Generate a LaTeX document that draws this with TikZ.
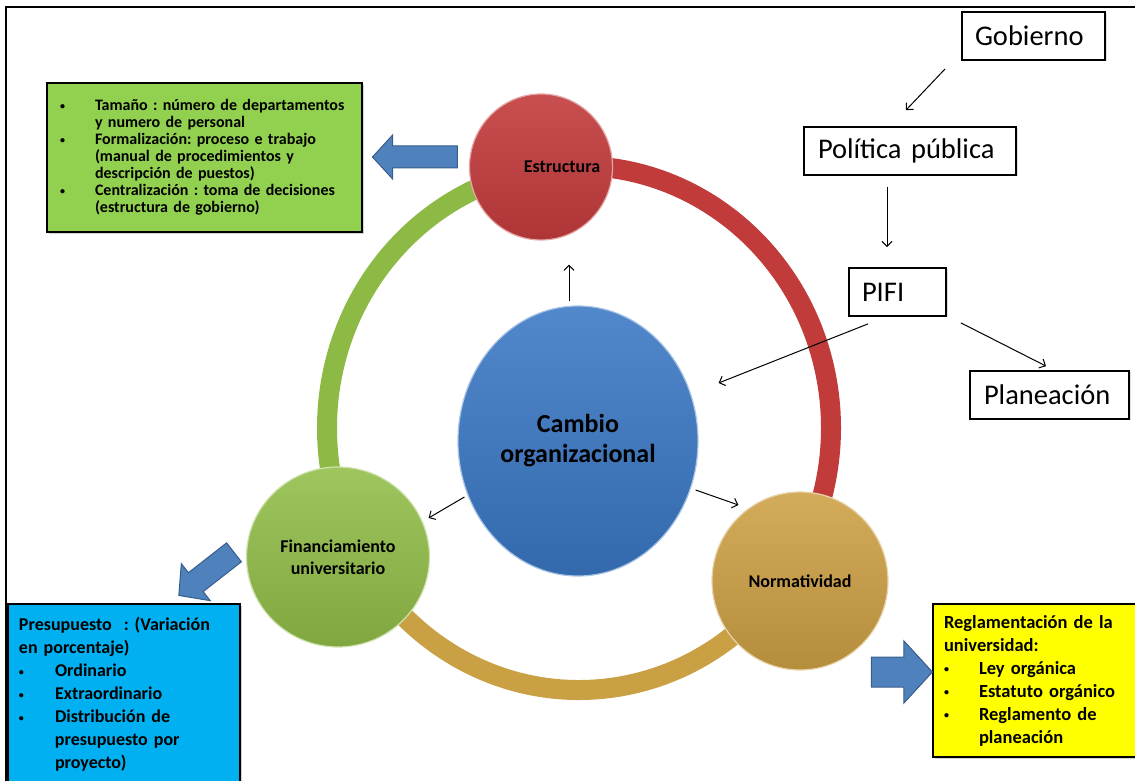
\documentclass[tikz,border=0pt]{standalone}
\usepackage{fontspec}
\setmainfont{Carlito}
\usetikzlibrary{shapes.geometric,shapes.arrows,arrows.meta,positioning,shadows}
\frenchspacing

\definecolor{ringred}{HTML}{C13B3B}
\definecolor{ringgreen}{HTML}{8DBA45}
\definecolor{ringgold}{HTML}{C9A044}
\definecolor{cblue}{HTML}{3A78C4}
\definecolor{cred}{HTML}{C23B3C}
\definecolor{cgreen}{HTML}{92BE48}
\definecolor{cgold}{HTML}{CDA045}
\definecolor{boxgreen}{HTML}{92D050}
\definecolor{boxblue}{HTML}{00B0F0}
\definecolor{boxyellow}{HTML}{FFFF00}
\definecolor{arrowblue}{HTML}{4F81BD}
\definecolor{arrowedge}{HTML}{385D8A}

\newcommand{\bul}{\raisebox{1.5pt}{\fontsize{10}{10}\selectfont\textbullet}}

\begin{document}
\begin{tikzpicture}[x=1pt, y=1pt]
  % Define styles
  \tikzstyle{ball} = [ellipse, inner sep=0pt, align=center, line width=1.2pt, font=\bfseries\fontsize{18}{22}\selectfont]
  \tikzstyle{ringarc} = [line width=20pt, line cap=butt]
  \tikzstyle{infobox} = [rectangle, draw=black, line width=2.2pt, align=left, inner ysep=0pt, drop shadow={opacity=0.35, shadow xshift=2pt, shadow yshift=-2pt}]
  \tikzstyle{plainbox} = [rectangle, draw=black, line width=1.8pt, align=left, inner ysep=0pt, minimum height=48pt, font=\fontsize{28.5}{32}\selectfont, drop shadow={opacity=0.25, shadow xshift=1.5pt, shadow yshift=-1.5pt}]
  \tikzstyle{blockarrow} = [single arrow, draw=arrowedge, fill=arrowblue, line width=1pt, inner xsep=0pt, single arrow tip angle=95]
  \tikzstyle{line} = [draw, -{Straight Barb[length=5pt,width=10pt]}, line width=1pt]

  \clip (0,0) rectangle (1135,780);
  \draw[line width=2pt] (6,-20) rectangle (1160,773);

  % Ring
  \coordinate (ringc) at (579,352);
  \draw[ringarc, ringred] (ringc) ++(99:252 and 262) arc[start angle=99, end angle=-33.5, x radius=252, y radius=262];
  \draw[ringarc, ringgold] (ringc) ++(-33.5:252 and 262) arc[start angle=-33.5, end angle=-153, x radius=252, y radius=262];
  \draw[ringarc, ringgreen] (ringc) ++(207:252 and 262) arc[start angle=207, end angle=99, x radius=252, y radius=262];

  % Place nodes
  \node [ball, top color=cblue!88!white, bottom color=cblue!88!black, draw=cblue!45!white,
         minimum width=240pt, minimum height=270pt, font=\bfseries\fontsize{26}{30}\selectfont] (cambio) at (578,339) {Cambio\\organizacional};
  \node [ball, top color=cred!90!white, bottom color=cred!90!black, draw=cred!45!white,
         minimum width=143pt, minimum height=146pt,
         label={[xshift=21pt, font=\bfseries\fontsize{18}{22}\selectfont]center:Estructura}] (estructura) at (541,613) {};
  \node [ball, top color=cgreen!88!white, bottom color=cgreen!88!black, draw=cgreen!45!white,
         minimum width=183pt, minimum height=180pt] (financ) at (338,223) {Financiamiento\\universitario};
  \node [ball, top color=cgold!88!white, bottom color=cgold!88!black, draw=cgold!45!white,
         minimum width=176pt, minimum height=178pt] (normat) at (800,199) {Normatividad};

  \node [infobox, fill=boxgreen, text width=289pt, inner xsep=13pt, minimum height=149pt,
         font=\bfseries\fontsize{16}{17}\selectfont] (estrbox) at (204.5,622.5)
    {\makebox[35pt][l]{\bul}Tamaño : número de departamentos\\
     \hspace*{35pt}y numero de personal\\
     \makebox[35pt][l]{\bul}Formalización: proceso e trabajo\\
     \hspace*{35pt}(manual de procedimientos y\\
     \hspace*{35pt}descripción de puestos)\\
     \makebox[35pt][l]{\bul}Centralización : toma de decisiones\\
     \hspace*{35pt}(estructura de gobierno)};
  \node [infobox, fill=boxblue, text width=210pt, inner xsep=11pt, minimum height=181pt,
         font=\bfseries\fontsize{18}{23}\selectfont] (presbox) at (124,85.5)
    {Presupuesto~ : (Variación\\
     en porcentaje)\\
     \makebox[36pt][l]{\bul}Ordinario\\
     \makebox[36pt][l]{\bul}Extraordinario\\
     \makebox[36pt][l]{\bul}Distribución de\\
     \hspace*{36pt}presupuesto por\\
     \hspace*{36pt}proyecto)};
  \node [infobox, fill=boxyellow, text width=185pt, inner xsep=11pt, minimum height=153pt,
         font=\bfseries\fontsize{18.5}{23}\selectfont] (reglbox) at (1036.5,99.5)
    {Reglamentación de la\\
     universidad:\\
     \makebox[35pt][l]{\bul}Ley orgánica\\
     \makebox[35pt][l]{\bul}Estatuto orgánico\\
     \makebox[35pt][l]{\bul}Reglamento de\\
     \hspace*{35pt}planeación};

  \node [plainbox, fill=white, text width=117pt, inner xsep=13pt] (gobierno) at (1033.5,744) {Gobierno};
  \node [plainbox, fill=white, text width=184pt, inner xsep=14pt] (politica) at (910,629) {Política pública};
  \node [plainbox, fill=white, text width=71pt, inner xsep=13pt] (pifi) at (897.5,488) {PIFI};
  \node [plainbox, fill=white, text width=131pt, inner xsep=14pt] (planeacion) at (1049.5,385) {Planeación};

  % Block arrows
  \node [blockarrow, minimum height=85pt, inner ysep=10.5pt, single arrow head extend=11pt, rotate=180] (arrEstr) at (420,623) {};
  \node [blockarrow, minimum height=70pt, inner ysep=11.5pt, single arrow head extend=11.5pt, rotate=218] (arrFin) at (210.75,209.5) {};
  \node [blockarrow, minimum height=61pt, inner ysep=14.5pt, single arrow head extend=16pt] (arrNorm) at (895,108) {};

  % Draw edges
  \path [line] ([shift={(-9,4)}]cambio.north) -- ([shift={(28,-24)}]estructura.south);
  \path [line] ([shift={(7,-56)}]cambio.west) -- ([shift={(-1.5,39)}]financ.east);
  \path [line] ([shift={(-3,-49)}]cambio.east) -- ([shift={(27,76)}]normat.west);
  \path [line] ([shift={(-16,-8)}]gobierno.south west) -- ([shift={(-4,16)}]politica.north);
  \path [line] ([shift={(-23,-11)}]politica.south) -- ([shift={(-10.5,20)}]pifi.north);
  \path [line] ([shift={(-29.5,-7)}]pifi.south) -- ([shift={(20,58)}]cambio.east);
  \path [line] ([shift={(14,-6)}]pifi.south east) -- ([shift={(-3.5,4)}]planeacion.north);
\end{tikzpicture}
\end{document}
